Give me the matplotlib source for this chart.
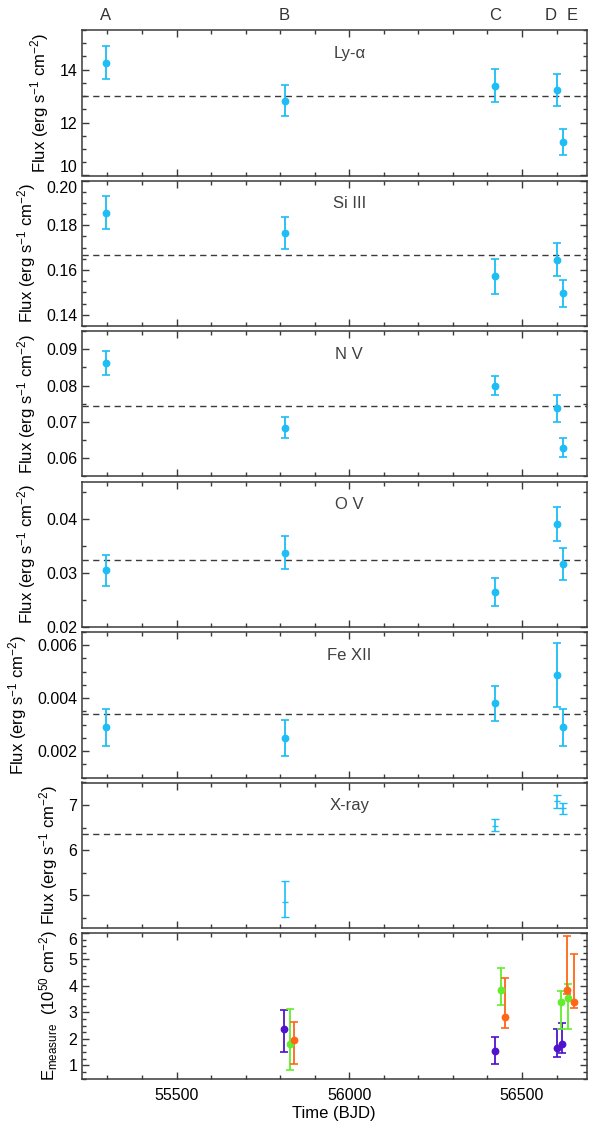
import matplotlib
matplotlib.use("Agg")
import matplotlib.pyplot as plt
import numpy as np
from matplotlib.ticker import MultipleLocator
import matplotlib.transforms as mtransforms

plt.rcParams['font.family'] = ['Liberation Sans', 'DejaVu Sans']
plt.rcParams['mathtext.fontset'] = 'custom'
plt.rcParams['mathtext.rm'] = 'Liberation Sans'
plt.rcParams['mathtext.it'] = 'Liberation Sans:italic'
plt.rcParams['mathtext.default'] = 'regular'
plt.rcParams['font.size'] = 11.5

# ---- data ----
epochs = ["A", "B", "C", "D", "E"]
epoch_label_x = [55295, 55813, 56423, 56582, 56644]
t_obs = [55295, 55813, 56423, 56601, 56618]

lya = [14.27, 12.83, 13.39, 13.23, 11.26]
lya_err = [0.61, 0.58, 0.62, 0.61, 0.48]
lya_mean = 13.0

si3 = [0.1857, 0.1766, 0.1572, 0.1646, 0.1496]
si3_err = [0.0074, 0.0073, 0.0077, 0.0074, 0.0060]
si3_mean = 0.1667

n5 = [0.0863, 0.0684, 0.0800, 0.0737, 0.0629]
n5_err = [0.0033, 0.0029, 0.0026, 0.0037, 0.0026]
n5_mean = 0.0743

o5 = [0.0305, 0.0338, 0.0265, 0.0391, 0.0317]
o5_err = [0.0029, 0.0030, 0.0026, 0.0032, 0.0029]
o5_mean = 0.0324

fe12 = [0.0029, 0.0025, 0.0038, 0.00487, 0.0029]
fe12_err = [0.0007, 0.00068, 0.00067, 0.0012, 0.0007]
fe12_mean = 0.0034

xray_t = [55813, 56423, 56601, 56618]
xray = [4.84, 6.54, 7.09, 6.93]
xray_lo = [4.51, 6.42, 6.94, 6.80]
xray_hi = [5.32, 6.69, 7.23, 7.05]
xray_mean = 6.36

em_purple_t = [55811, 56421, 56601, 56617]
em_purple = [2.36, 1.55, 1.66, 1.81]
em_purple_lo = [1.49, 1.03, 1.31, 1.48]
em_purple_hi = [3.10, 2.05, 2.38, 2.58]

em_green_t = [55827, 56438, 56614, 56634]
em_green = [1.79, 3.84, 3.38, 3.53]
em_green_lo = [0.83, 3.29, 2.38, 2.38]
em_green_hi = [3.14, 4.69, 3.81, 4.06]

em_orange_t = [55840, 56452, 56631, 56649]
em_orange = [1.94, 2.81, 3.85, 3.39]
em_orange_lo = [1.06, 2.40, 3.69, 3.18]
em_orange_hi = [2.65, 4.29, 5.89, 5.19]

BLUE = '#1DBDF5'
PURPLE = '#5012CC'
GREEN = '#62EE2C'
ORANGE = '#FF6616'
GRAY = '#3a3a3a'

W, H = 598, 1129
fig = plt.figure(figsize=(W / 100, H / 100), dpi=100)

left_px, right_px = 81.5, 587
tops = [30 + 150.5 * i for i in range(7)]
hgt = 145.5
axes = []
for tp in tops:
    ax = fig.add_axes([left_px / W, 1 - (tp + hgt) / H, (right_px - left_px) / W, hgt / H])
    axes.append(ax)

ylabel_flux = r'Flux (erg s$^{-1}$ cm$^{-2}$)'
panels = [
    ("Ly-\u03b1", lya, lya_err, lya_mean, (10, 15.5), 2, 0.5),
    ("Si III", si3, si3_err, si3_mean, (0.135, 0.20), 0.02, 0.005),
    ("N V", n5, n5_err, n5_mean, (0.055, 0.095), 0.01, 0.005),
    ("O V", o5, o5_err, o5_mean, (0.02, 0.047), 0.01, 0.005),
    ("Fe XII", fe12, fe12_err, fe12_mean, (0.001, 0.0065), 0.002, 0.0005),
]

xlim = (55225, 56688)
ls_dash = (0, (4.5, 3.2))

def style(ax, ymaj, ymin):
    ax.set_xlim(*xlim)
    ax.xaxis.set_major_locator(MultipleLocator(500))
    ax.xaxis.set_minor_locator(MultipleLocator(100))
    ax.yaxis.set_major_locator(MultipleLocator(ymaj))
    ax.yaxis.set_minor_locator(MultipleLocator(ymin))
    ax.tick_params(which='both', direction='in', top=True, right=True, colors=GRAY,
                   labelcolor='black', width=1.0)
    ax.tick_params(which='major', length=5, labelsize=11.5, pad=3)
    ax.tick_params(which='minor', length=2.8)
    for s in ax.spines.values():
        s.set_linewidth(1.1)
        s.set_color(GRAY)

for ax, (name, vals, errs, mean, ylim, ymaj, ymin) in zip(axes[:5], panels):
    ax.errorbar(t_obs, vals, yerr=errs, fmt='o', color=BLUE, ms=4.6, elinewidth=1.3,
                capsize=2.6, capthick=1.2, zorder=3)
    ax.axhline(mean, color=GRAY, lw=1.0, ls=ls_dash)
    ax.set_ylim(*ylim)
    style(ax, ymaj, ymin)
    ax.set_ylabel(ylabel_flux, fontsize=12, labelpad=6)
    ax.text(56000, 0.84, name, transform=mtransforms.blended_transform_factory(ax.transData, ax.transAxes),
            ha='center', va='center', fontsize=12, color='#404040')
    ax.tick_params(labelbottom=False)

# X-ray panel
ax = axes[5]
xr = np.array(xray)
yerr = [xr - np.array(xray_lo), np.array(xray_hi) - xr]
ax.errorbar(xray_t, xray, yerr=yerr, fmt='_', color=BLUE, ms=5, mew=1.0, elinewidth=1.2,
            capsize=2.6, capthick=1.2, zorder=3)
ax.axhline(xray_mean, color=GRAY, lw=1.0, ls=ls_dash)
ax.set_ylim(4.27, 7.5)
style(ax, 1, 0.5)
ax.set_ylabel(ylabel_flux, fontsize=12, labelpad=6)
ax.text(56000, 0.84, "X-ray", transform=mtransforms.blended_transform_factory(ax.transData, ax.transAxes),
        ha='center', va='center', fontsize=12, color='#404040')
ax.tick_params(labelbottom=False)

# Emission measure panel
ax = axes[6]
for tt, v, lo, hi, c in [(em_purple_t, em_purple, em_purple_lo, em_purple_hi, PURPLE),
                         (em_green_t, em_green, em_green_lo, em_green_hi, GREEN),
                         (em_orange_t, em_orange, em_orange_lo, em_orange_hi, ORANGE)]:
    v = np.array(v)
    ax.errorbar(tt, v, yerr=[v - np.array(lo), np.array(hi) - v], fmt='o', color=c, ms=4.6,
                elinewidth=1.3, capsize=2.6, capthick=1.2, zorder=3)
ax.set_ylim(0.5, 6.0)
style(ax, 1, 0.25)
ax.set_ylabel(r'E$_{\mathrm{measure}}$  (10$^{50}$ cm$^{-2}$)', fontsize=12, labelpad=6)
ax.set_xlabel('Time (BJD)', fontsize=12, labelpad=2)
ax.tick_params(axis='x', pad=7)

# epoch letters
ax0 = axes[0]
tr = mtransforms.blended_transform_factory(ax0.transData, ax0.transAxes)
for lab, x in zip(epochs, epoch_label_x):
    ax0.text(x, 1.097, lab, transform=tr, ha='center', va='center', fontsize=12, color='#333333')

# shift edge labels like the original
fig.canvas.draw()
def set_label_va(ax, value, va):
    for tk in ax.yaxis.get_major_ticks():
        if abs(tk.get_loc() - value) < 1e-9:
            tk.label1.set_va(va)
set_label_va(axes[0], 10, 'bottom')
set_label_va(axes[1], 0.20, 'top')
set_label_va(axes[6], 6.0, 'top')

fig.savefig('out.png', dpi=100)
